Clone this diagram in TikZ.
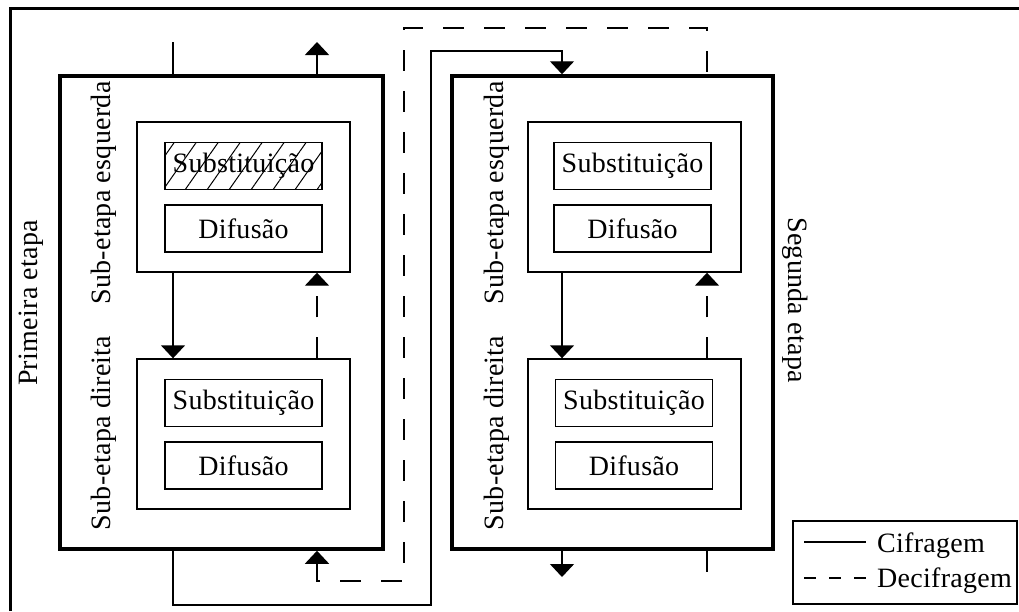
\documentclass[tikz,border=0pt]{standalone}
\usepackage{fontspec}
\setmainfont{Liberation Serif}[LetterSpace=1]
\usetikzlibrary{arrows.meta,patterns.meta}

\begin{document}
\begin{tikzpicture}[x=1pt,y=-1pt,
    etapa/.style={draw, line width=3.5pt, minimum width=323pt, minimum height=473pt, inner sep=0pt},
    subetapa/.style={draw, line width=1.4pt, minimum width=213pt, minimum height=150pt, inner sep=0pt},
    bloco/.style={draw, line width=1.4pt, minimum width=157pt, minimum height=47pt, inner sep=0pt, font=\fontsize{28}{30}\selectfont},
    rotulo/.style={font=\fontsize{28}{30}\selectfont, inner sep=0pt},
    cifra/.style={line width=1.4pt},
    decifra/.style={line width=1.4pt, dash pattern=on 21pt off 20pt},
    ponta/.style={-{Triangle[width=24pt,length=13pt]}}]
    \useasboundingbox (0,0) rectangle (1019,611);

    % Outer frame
    \draw[line width=3pt] (10,611) -- (10,8) -- (1019,8);

    % Primeira etapa
    \node[etapa] (etapa1) at (221.5,312.5) {};
    \node[subetapa] (esq1) at (243.5,197) {};
    \node[bloco, pattern={Lines[angle=55,distance=18pt,line width=1pt]}] (subs1) at (243.5,166) {Substituição};
    \node[bloco] (dif1) at (243.5,228.5) {Difusão};
    \node[subetapa] (dir1) at (243.5,434) {};
    \node[bloco] (subs2) at (243.5,403) {Substituição};
    \node[bloco] (dif2) at (243.5,465.5) {Difusão};
    \node[rotulo, rotate=90] (prim) at (31,303) {Primeira etapa};
    \node[rotulo, rotate=90] (lesq1) at (104,193) {Sub-etapa esquerda};
    \node[rotulo, rotate=90] (ldir1) at (104,433) {Sub-etapa direita};

    % Segunda etapa
    \node[etapa, minimum width=321pt] (etapa2) at (612.5,312.5) {};
    \node[subetapa] (esq2) at (634.5,197) {};
    \node[bloco] (subs3) at (632.5,166) {Substituição};
    \node[bloco] (dif3) at (632.5,228.5) {Difusão};
    \node[subetapa] (dir2) at (634.5,434) {};
    \node[bloco] (subs4) at (634,403) {Substituição};
    \node[bloco] (dif4) at (634,465.5) {Difusão};
    \node[rotulo, rotate=90] (lesq2) at (497,193) {Sub-etapa esquerda};
    \node[rotulo, rotate=90] (ldir2) at (497,433) {Sub-etapa direita};
    \node[rotulo, rotate=-90] (seg) at (795,300) {Segunda etapa};

    % Cifragem
    \coordinate (c1) at (173,42);
    \coordinate (c2) at (173,605);
    \coordinate (c3) at (431,605);
    \coordinate (c4) at (431,51);
    \coordinate (c5) at (562,51);
    \coordinate (c6) at (562,577);
    \draw[cifra] (c1) -- (c1 |- etapa1.north);
    \draw[cifra, ponta] (c1 |- esq1.south) -- (c1 |- dir1.north);
    \draw[cifra, ponta] (c1 |- etapa1.south) -- (c2) -- (c3) -- (c4) -- (c5) -- (c5 |- etapa2.north);
    \draw[cifra, ponta] (c5 |- esq2.south) -- (c5 |- dir2.north);
    \draw[cifra, ponta] (c5 |- etapa2.south) -- (c6);

    % Decifragem
    \coordinate (d1) at (317,42);
    \coordinate (d2) at (317,581);
    \coordinate (d3) at (404,581);
    \coordinate (d4) at (404,28);
    \coordinate (d5) at (707,28);
    \coordinate (d6) at (707,577);
    \draw[decifra] (d6 |- etapa2.south) -- (d6);
    \draw[decifra, ponta] (d6 |- dir2.north) -- (d6 |- esq2.south);
    \draw[decifra, {Triangle[width=24pt,length=13pt]}-] (d2 |- etapa1.south) -- (d2) -- (d3) -- (d4) -- (d5) -- (d5 |- etapa2.north);
    \draw[decifra, ponta] (d1 |- dir1.north) -- (d1 |- esq1.south);
    \draw[decifra, ponta] (d1 |- etapa1.north) -- (d1);

    % Legenda
    \node[draw, line width=1.4pt, minimum width=224pt, minimum height=83pt, inner sep=0pt] (legenda) at (905,562.5) {};
    \coordinate (l1) at (804,542);
    \coordinate (l2) at (866,542);
    \coordinate (l3) at (804,578);
    \coordinate (l4) at (866,578);
    \draw[cifra] (l1) -- (l2);
    \draw[cifra, dash pattern=on 12pt off 13pt] (l3) -- (l4);
    \node[rotulo, anchor=base west] (tcif) at (877,552) {Cifragem};
    \node[rotulo, anchor=base west] (tdec) at (877,587) {Decifragem};
\end{tikzpicture}
\end{document}
